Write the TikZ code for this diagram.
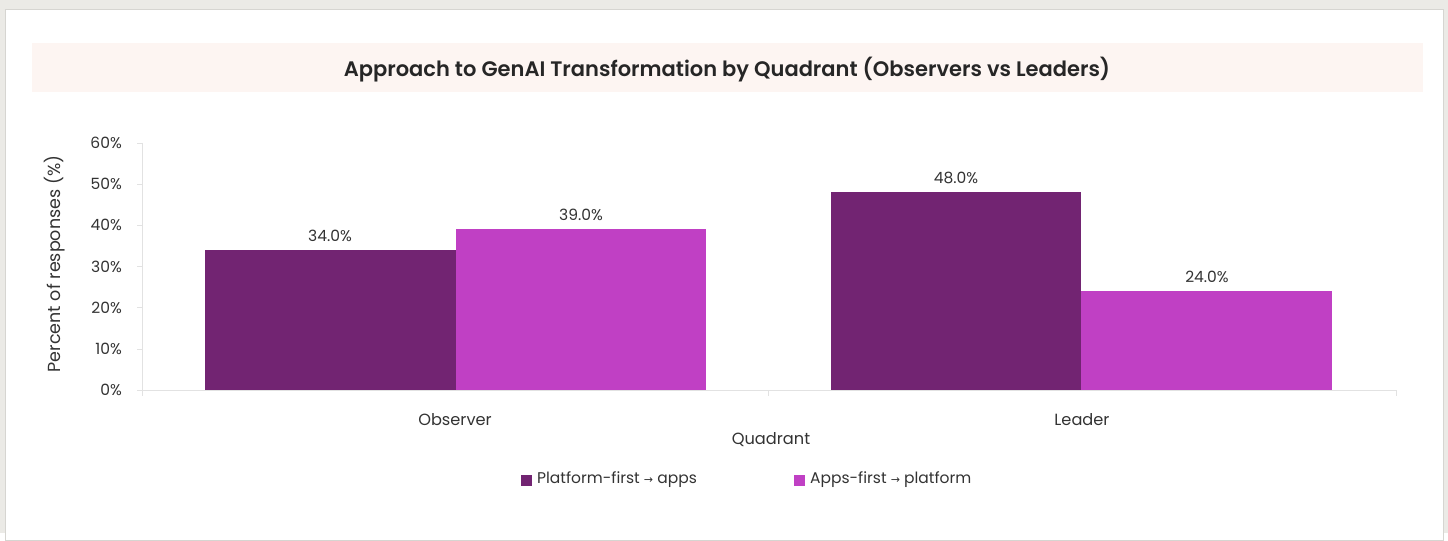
\documentclass[tikz,border=0pt]{standalone}
\usepackage{fontspec}
\setmainfont{Poppins}
\newfontfamily\titlefont{Poppins SemiBold}
\newfontfamily\arrowfont{DejaVu Sans}
\definecolor{pagegray}{HTML}{EBEAE6}
\definecolor{cardline}{HTML}{D6D5D1}
\definecolor{titleband}{HTML}{FDF5F2}
\definecolor{platcol}{HTML}{722472}
\definecolor{appscol}{HTML}{C040C4}
\definecolor{axiscol}{HTML}{E2E2E2}
\definecolor{labcol}{HTML}{333333}
\newcommand{\arr}{{\arrowfont\fontsize{11}{13}\selectfont →}}
\begin{document}
\begin{tikzpicture}[x=1pt,y=-1pt,
    lab/.style={font=\fontsize{15.5}{18}\selectfont, text=labcol, inner sep=0pt},
    catlab/.style={lab, font=\fontsize{16.2}{19}\selectfont},
    ticklab/.style={lab, anchor=east},
    barlab/.style={lab, anchor=base}]
  % page and card
  \fill[pagegray] (0,0) rectangle (1448,533);
  \filldraw[fill=white, draw=cardline] (5,9) rectangle (1443,540);
  \useasboundingbox (0,0) rectangle (1448,533);
  \fill[titleband] (32,43) rectangle (1423,92);
  \node[font=\titlefont\fontsize{21}{24}\selectfont, text=black!85] (title) at (727,70)
    {Approach to GenAI Transformation by Quadrant (Observers vs Leaders)};
  % axes
  \draw[axiscol] (142,143) -- (142,390) -- (1396,390);
  \foreach \v [count=\i from 0] in {0,10,20,30,40,50,60} {
    \draw[axiscol] (137,390-41.17*\i) -- (142,390-41.17*\i);
    \node[ticklab] (t\v) at (122,390-41.17*\i) {\v\%};
  }
  \foreach \x in {142,768,1396}
    \draw[axiscol] (\x,390) -- (\x,396);
  % bars
  \fill[platcol] (205,390) rectangle (456,250);
  \fill[appscol] (456,390) rectangle (706,229.4);
  \fill[platcol] (831,390) rectangle (1081,192.4);
  \fill[appscol] (1081,390) rectangle (1332,291.2);
  \node[barlab] (v1) at (330,241) {34.0\%};
  \node[barlab] (v2) at (581,220) {39.0\%};
  \node[barlab] (v3) at (956,183) {48.0\%};
  \node[barlab] (v4) at (1207,282) {24.0\%};
  % categories
  \node[catlab] (obs) at (455,420) {Observer};
  \node[catlab] (lead) at (1082,420) {Leader};
  \node[catlab] (quad) at (771,440) {Quadrant};
  \node[lab, font=\fontsize{17.5}{20}\selectfont, rotate=90] (ylab) at (55,264)
    {Percent of responses (\%)};
  % legend
  \fill[platcol] (521,475) rectangle (532,486);
  \node[lab, anchor=west] (leg1) at (537,480) {Platform-first \arr{} apps};
  \fill[appscol] (794,475) rectangle (805,486);
  \node[lab, anchor=west] (leg2) at (810,480) {Apps-first \arr{} platform};
\end{tikzpicture}
\end{document}
